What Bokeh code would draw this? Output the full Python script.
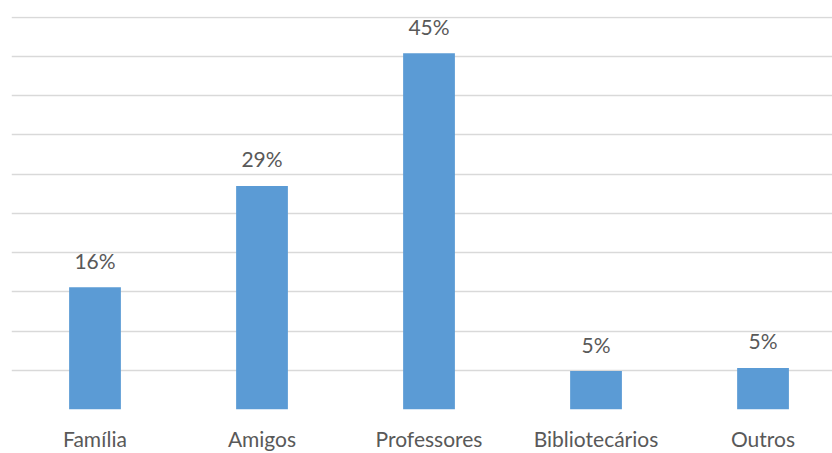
from bokeh.plotting import figure
from bokeh.models import Range1d, FixedTicker, ColumnDataSource
from bokeh.core.properties import value
from bokeh.embed import file_html
from bokeh.resources import INLINE

categories = ["Família", "Amigos", "Professores", "Bibliotecários", "Outros"]
values = [15.6, 28.5, 45.4, 4.9, 5.3]
labels = ["16%", "29%", "45%", "5%", "5%"]
y_ticks = [0, 5, 10, 15, 20, 25, 30, 35, 40, 45, 50]

FONT = "Lato"
TEXT = "#595959"
BAR = "#5B9BD5"
GRID = "#D9D9D9"

xs = list(range(len(categories)))
src = ColumnDataSource(dict(x=xs, top=values, label=labels))

p = figure(width=832, height=453, output_backend="svg", toolbar_location=None,
           x_range=Range1d(-0.5, 4.416), y_range=Range1d(0, 50.1),
           min_border_left=11, min_border_right=0, min_border_top=16, min_border_bottom=44)
p.outline_line_color = None
p.background_fill_color = "white"
p.border_fill_color = "white"

p.vbar(x="x", top="top", bottom=0, width=0.31, source=src, fill_color=BAR, line_color=None)
p.text(x="x", y="top", text="label", source=src, text_align="center", text_baseline="alphabetic",
       y_offset=-27, text_font=value(FONT), text_font_size="21px", text_color=TEXT)

p.yaxis.visible = False
p.ygrid.ticker = FixedTicker(ticks=y_ticks)
p.ygrid.grid_line_color = GRID
p.ygrid.grid_line_width = 1.5
p.xgrid.visible = False

p.xaxis.ticker = FixedTicker(ticks=xs)
p.xaxis.major_label_overrides = {i: c for i, c in enumerate(categories)}
p.xaxis.axis_line_color = None
p.xaxis.major_tick_line_color = None
p.xaxis.minor_tick_line_color = None
p.xaxis.major_tick_out = 0
p.xaxis.major_tick_in = 0
p.xaxis.major_label_standoff = 16
p.xaxis.major_label_text_font = FONT
p.xaxis.major_label_text_font_size = "21px"
p.xaxis.major_label_text_color = TEXT

open("out.html", "w").write(file_html(p, INLINE))
